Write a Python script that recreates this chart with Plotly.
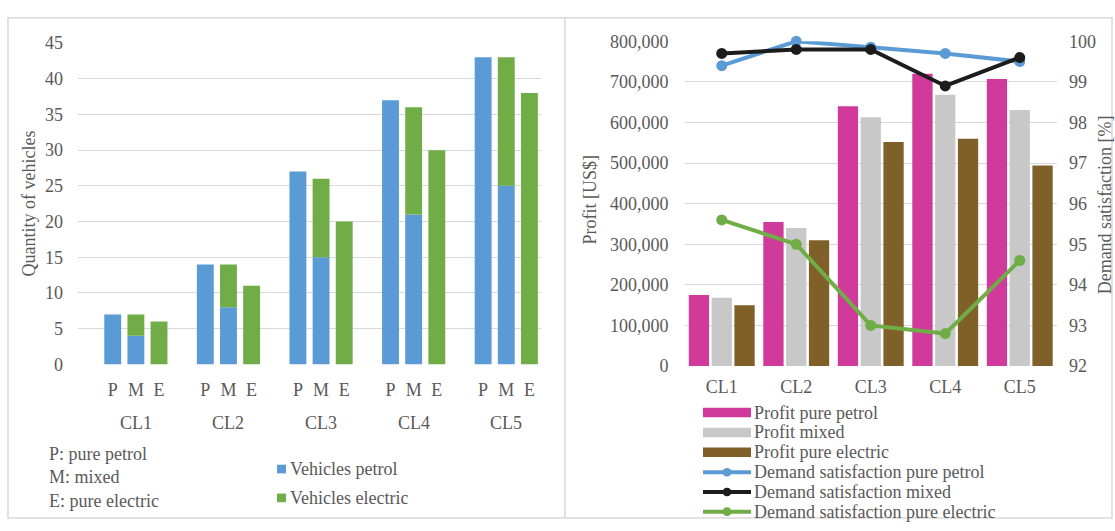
import plotly.graph_objects as go

W, H = 1115, 531

# ---------------- data ----------------
clusters = ["CL1", "CL2", "CL3", "CL4", "CL5"]
fleet_codes = ["P", "M", "E"]

# vehicles per fleet option (P = pure petrol, M = mixed, E = pure electric)
petrol_in_P = [7, 14, 27, 37, 43]
petrol_in_M = [4, 8, 15, 21, 25]
electric_in_M = [3, 6, 11, 15, 18]
electric_in_E = [6, 11, 20, 30, 38]

profit_petrol = [175000, 355000, 640000, 720000, 707000]
profit_mixed = [168000, 340000, 613000, 668000, 631000]
profit_electric = [150000, 310000, 552000, 560000, 494000]

demand_petrol = [99.4, 100.0, 99.85, 99.7, 99.5]
demand_mixed = [99.7, 99.8, 99.8, 98.9, 99.6]
demand_electric = [95.6, 95.0, 93.0, 92.8, 94.6]

# ---------------- style ----------------
FONT = "Liberation Serif, Times New Roman, serif"
TXT = "#595959"
GRID = "#d9d9d9"
BLUE = "#5b9bd5"
GREEN = "#70ad47"
PINK = "#cf3a9b"
LGRAY = "#c8c8c8"
BROWN = "#7f6029"
BLACK = "#1c1c1c"
FS = 18


def px(x):
    return x / W


def py(y):
    return 1 - y / H


# category keys of the left chart: a spacer slot before each P/M/E triple
def key(c, f):
    return f"{c} {f}"


left_categories = []
for c in clusters:
    left_categories.append(key(c, "gap"))
    left_categories += [key(c, f) for f in fleet_codes]

bar_keys = [key(c, f) for c in clusters for f in fleet_codes]
bar_labels = [f for c in clusters for f in fleet_codes]

fig = go.Figure()

# ---- left chart: vehicles (petrol part at the bottom, electric on top) ----
px_x, px_y = [], []
ex_x, ex_y, ex_base = [], [], []
for i, c in enumerate(clusters):
    px_x += [key(c, "P"), key(c, "M")]
    px_y += [petrol_in_P[i], petrol_in_M[i]]
    ex_x += [key(c, "M"), key(c, "E")]
    ex_y += [electric_in_M[i], electric_in_E[i]]
    ex_base += [petrol_in_M[i], 0]

fig.add_trace(go.Bar(x=px_x, y=px_y, marker=dict(color=BLUE, line_width=0),
                     width=0.73, offset=-0.365, name="Vehicles petrol",
                     xaxis="x", yaxis="y", showlegend=False))
fig.add_trace(go.Bar(x=ex_x, y=ex_y, base=ex_base, marker=dict(color=GREEN, line_width=0),
                     width=0.73, offset=-0.365, name="Vehicles electric",
                     xaxis="x", yaxis="y", showlegend=False))

# ---- right chart: profit bars ----
for vals, col, nm in [(profit_petrol, PINK, "Profit pure petrol"),
                      (profit_mixed, LGRAY, "Profit mixed"),
                      (profit_electric, BROWN, "Profit pure electric")]:
    fig.add_trace(go.Bar(x=clusters, y=vals, marker=dict(color=col, line_width=0),
                         name=nm, xaxis="x2", yaxis="y2", showlegend=False))

# ---- right chart: demand satisfaction lines ----
for vals, col, nm in [(demand_petrol, BLUE, "Demand satisfaction pure petrol"),
                      (demand_mixed, BLACK, "Demand satisfaction mixed"),
                      (demand_electric, GREEN, "Demand satisfaction pure electric")]:
    fig.add_trace(go.Scatter(x=clusters, y=vals, mode="lines+markers", name=nm,
                             line=dict(color=col, width=4),
                             marker=dict(color=col, size=11),
                             cliponaxis=False,
                             xaxis="x2", yaxis="y3", showlegend=False))

tickfont = dict(family=FONT, size=FS, color=TXT)

fig.update_layout(
    width=W, height=H,
    margin=dict(l=0, r=0, t=0, b=0),
    paper_bgcolor="white", plot_bgcolor="white",
    font=dict(family=FONT, size=FS, color=TXT),
    barmode="group", bargap=0.082, bargroupgap=0.11,
    showlegend=False,
    xaxis=dict(domain=[px(78), px(541)], anchor="y", type="category",
               categoryorder="array", categoryarray=left_categories,
               range=[-0.5, len(left_categories) - 0.5],
               tickmode="array", tickvals=bar_keys, ticktext=bar_labels,
               showgrid=False, zeroline=False, showline=False, ticks="",
               tickfont=tickfont, ticklabelstandoff=13, fixedrange=True),
    yaxis=dict(domain=[py(368.3), py(34.3)], anchor="x", range=[0, 45], dtick=5,
               showgrid=True, gridcolor=GRID, gridwidth=1, zeroline=False,
               showline=False, ticks="", tickfont=tickfont, ticklabelstandoff=14),
    xaxis2=dict(domain=[px(684.5), px(1057)], anchor="y2", type="category",
                showgrid=False, zeroline=False, showline=False, ticks="",
                tickfont=tickfont, ticklabelstandoff=8),
    yaxis2=dict(domain=[py(370), py(32.5)], anchor="x2", range=[0, 800000],
                dtick=100000, tickformat=",", showgrid=True, gridcolor=GRID,
                gridwidth=1, zeroline=False, showline=False, ticks="",
                tickfont=tickfont, ticklabelstandoff=15),
    yaxis3=dict(overlaying="y2", anchor="x2", side="right", range=[92, 100],
                dtick=1, showgrid=False, zeroline=False, showline=False,
                ticks="", tickfont=tickfont, ticklabelstandoff=11),
)

annotations = []


def text(t, x, y, xanchor="left", angle=0, xref="paper"):
    annotations.append(dict(text=t, x=x if xref != "paper" else px(x), y=py(y),
                            xref=xref, yref="paper", xanchor=xanchor,
                            yanchor="middle", showarrow=False, textangle=angle,
                            align="left", font=dict(family=FONT, size=FS, color=TXT)))


# axis titles
text("Quantity of vehicles", 29, 201, xanchor="center", angle=-90)
text("Profit [US$]", 590, 197, xanchor="center", angle=-90)
text("Demand satisfaction [%]", 1105, 203, xanchor="center", angle=-90)

# cluster labels under the P M E groups
for c in clusters:
    text(c, key(c, "M"), 429, xanchor="center", xref="x")

# fleet code explanation
text("P: pure petrol<br>M: mixed<br>E: pure electric", 47, 486)

shapes = []

# left legend
for name, col, yc in [("Vehicles petrol", BLUE, 477), ("Vehicles electric", GREEN, 507)]:
    shapes.append(dict(type="rect", xref="paper", yref="paper",
                       x0=px(277), x1=px(286), y0=py(yc + 4.5), y1=py(yc - 4.5),
                       fillcolor=col, line_width=0))
    text(name, 288, yc)

# right legend
legend_rows = [("Profit pure petrol", PINK, "bar"),
               ("Profit mixed", LGRAY, "bar"),
               ("Profit pure electric", BROWN, "bar"),
               ("Demand satisfaction pure petrol", BLUE, "line"),
               ("Demand satisfaction mixed", BLACK, "line"),
               ("Demand satisfaction pure electric", GREEN, "line")]
row_y = [418.3, 439.0, 459.6, 480.3, 500.9, 521.3]
for (name, col, kind), yc in zip(legend_rows, row_y):
    if kind == "bar":
        shapes.append(dict(type="rect", xref="paper", yref="paper",
                           x0=px(703), x1=px(751), y0=py(yc + 5), y1=py(yc - 5),
                           fillcolor=col, line_width=0))
    else:
        shapes.append(dict(type="line", xref="paper", yref="paper",
                           x0=px(703), x1=px(751), y0=py(yc), y1=py(yc),
                           line=dict(color=col, width=4)))
        shapes.append(dict(type="circle", xref="paper", yref="paper",
                           x0=px(722.5), x1=px(731.5), y0=py(yc + 4.5), y1=py(yc - 4.5),
                           fillcolor=col, line_width=0))
    text(name, 752, yc)

# panel frames
shapes.append(dict(type="rect", xref="paper", yref="paper",
                   x0=px(8), x1=px(1112), y0=py(528), y1=py(8),
                   line=dict(color=GRID, width=1.5), layer="below"))
shapes.append(dict(type="line", xref="paper", yref="paper",
                   x0=px(565), x1=px(565), y0=py(528), y1=py(8),
                   line=dict(color=GRID, width=1.5), layer="below"))

fig.update_layout(annotations=annotations, shapes=shapes)

fig.write_html("out.html")
